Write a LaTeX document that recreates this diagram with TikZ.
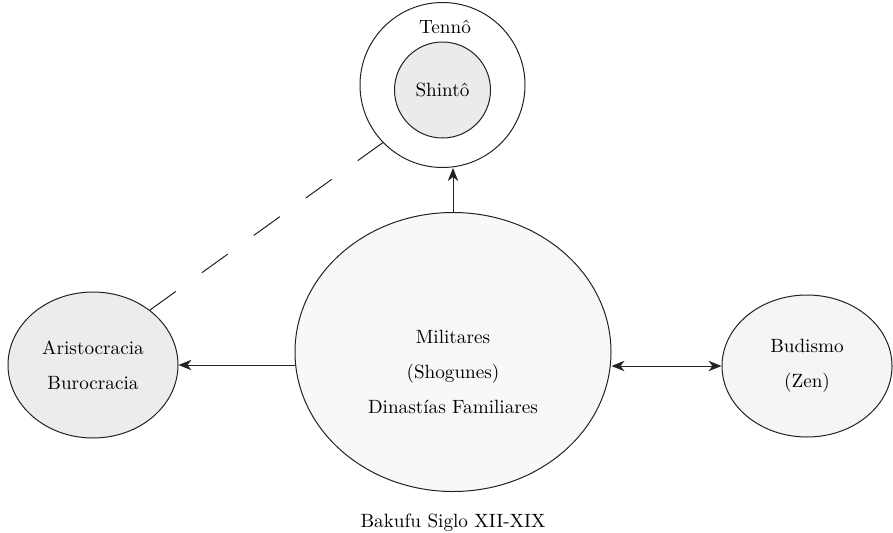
\documentclass[tikz,border=0pt]{standalone}
\usepackage{xcolor}
\usetikzlibrary{arrows.meta,shapes.geometric}

\definecolor{shintofill}{HTML}{EBEBEB}
\definecolor{aristofill}{HTML}{ECECEE}
\definecolor{militarfill}{HTML}{F8F8F8}
\definecolor{budafill}{HTML}{F5F5F5}
\definecolor{inkline}{HTML}{222222}

\begin{document}
\begin{tikzpicture}[x=1pt, y=1pt, line width=0.5pt, draw=inkline,
  font=\fontsize{9.6}{17.5}\selectfont,
  >={Stealth[length=6.5pt, width=5.2pt, inset=2pt]}]
\useasboundingbox (0,0) rectangle (446.5,266);
% Tenno / Shinto
\node[draw, circle, fill=white, minimum size=82.5pt, inner sep=0] at (221.25,223.5) (tenno) {};
\node[draw, circle, fill=shintofill, minimum size=48pt, inner sep=0] at (221.25,221) (shinto) {Shint\^o};
\node at (222.5,252.5) (tennolabel) {Tenn\^o};
% the three ellipses
\node[draw, ellipse, fill=militarfill, minimum width=158pt, minimum height=139.5pt, inner sep=0] at (226.5,90) (militares) {};
\node[align=center] at (226.5,80) (militarestext) {Militares\\(Shogunes)\\Dinast\'ias Familiares};
\node[draw, ellipse, fill=aristofill, minimum width=85pt, minimum height=73pt, inner sep=0, align=center] at (46.5,83.5) (aristo) {Aristocracia\\Burocracia};
\node[draw, ellipse, fill=budafill, minimum width=85pt, minimum height=71pt, inner sep=0, align=center] at (403.5,83) (budismo) {Budismo\\(Zen)};
\node at (226.5,4.5) (bakufu) {Bakufu Siglo XII-XIX};
% connectors
\path[->] (militares.north) edge (militares.north |- tenno.south);
\path[->] (militares.west |- aristo.east) edge (aristo.east);
\path[<->] (militares.east |- budismo.west) edge (budismo.west);
\path[dash pattern=on 16pt off 16pt] (aristo.44) edge (tenno.224);
\end{tikzpicture}
\end{document}
